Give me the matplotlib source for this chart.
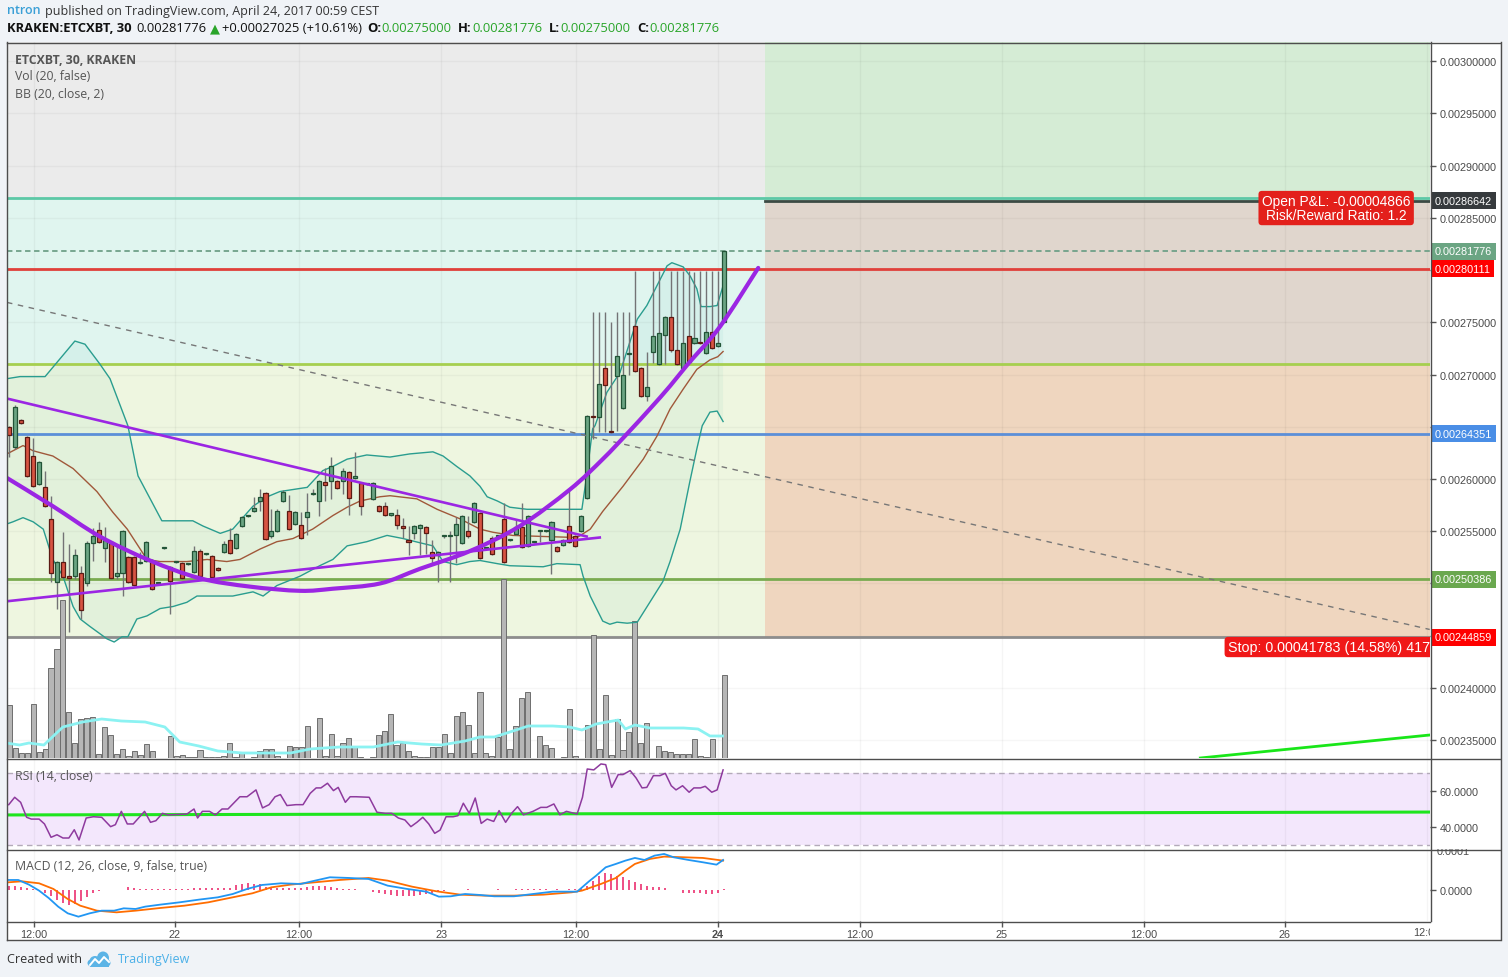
import numpy as np
import matplotlib
matplotlib.use("Agg")
import matplotlib.pyplot as plt
from matplotlib.patches import Rectangle, Ellipse, PathPatch
from matplotlib.path import Path
from matplotlib.lines import Line2D
from matplotlib.transforms import Bbox, blended_transform_factory

plt.rcParams['font.family'] = ['Liberation Sans', 'DejaVu Sans']

UNIT = 1e-5  # all prices below are written in units of 1e-5 BTC

# ---------------- candles (30 min bars, index 0..120) ----------------
opens = [265.0,263.1,265.6,264.0,262.2,259.5,259.2,256.2,250.1,252.1,
 250.7,250.7,251.0,250.0,253.9,255.1,253.4,254.0,250.7,251.0,
 252.5,252.5,252.0,252.2,252.2,250.0,253.4,251.6,252.1,252.0,
 251.9,251.1,253.1,252.8,252.6,251.5,253.0,254.2,253.4,255.5,
 256.5,256.9,257.9,258.7,254.5,255.0,257.9,256.9,255.7,255.6,
 256.4,258.6,257.9,259.7,259.8,259.8,259.8,260.7,260.1,259.6,
 259.5,258.1,257.4,257.4,256.6,256.6,255.5,254.2,254.8,255.3,
 255.4,253.0,252.7,254.5,254.5,254.6,253.9,255.0,255.9,256.7,
 253.4,254.4,254.5,256.2,254.2,254.7,255.4,253.6,254.0,255.0,
 255.0,254.2,253.5,253.7,255.5,254.5,255.0,258.2,266.0,265.9,
 270.6,264.6,269.9,266.8,272.0,274.6,270.6,267.9,272.2,271.0,
 273.8,275.5,272.3,270.6,273.7,273.0,273.1,272.1,274.1,272.7,
 275.0]
highs = [265.1,267.1,265.7,264.1,263.9,261.7,260.8,258.4,252.2,254.9,
 253.8,253.3,251.7,254.1,255.3,255.9,255.4,254.1,253.6,255.1,
 252.6,252.6,253.0,254.1,252.3,250.1,253.5,251.7,252.2,252.1,
 252.0,253.6,253.3,252.9,252.7,251.6,254.1,255.3,254.8,256.5,
 256.6,258.3,259.0,258.8,257.1,257.1,258.9,258.5,256.9,256.8,
 258.7,259.0,259.9,261.1,262.1,259.9,261.1,260.8,262.6,259.7,
 259.6,259.7,257.5,257.8,256.7,257.1,256.3,255.5,255.6,255.7,
 255.5,254.2,253.1,254.6,255.0,256.4,256.6,256.5,257.8,256.8,
 253.5,254.5,254.6,257.7,254.3,256.1,257.7,256.6,254.1,255.1,
 255.1,256.0,253.6,254.3,259.0,254.6,256.6,266.1,276.0,276.0,
 276.0,275.0,276.0,276.0,276.0,279.9,270.7,272.2,279.9,279.9,
 275.6,279.9,279.9,279.9,279.9,279.8,279.9,279.9,279.9,279.9,
 281.776]
lows = [262.1,262.9,265.3,260.2,259.2,259.4,257.3,250.1,247.6,250.5,
 245.4,250.4,246.6,249.8,252.2,253.9,252.1,250.4,250.4,248.8,
 250.0,249.8,251.9,252.1,249.4,249.9,253.3,247.1,252.0,250.4,
 251.8,251.0,250.4,252.7,250.5,251.2,252.9,252.8,253.3,255.4,
 256.4,256.8,256.9,254.2,254.4,254.9,257.8,255.1,255.6,254.3,
 254.6,258.5,256.5,257.9,258.1,259.0,258.6,256.6,260.0,256.6,
 259.4,258.0,256.8,256.5,256.5,255.2,254.4,252.7,254.3,252.7,
 252.8,252.0,250.1,254.4,250.1,252.0,253.8,254.4,255.8,252.3,
 253.3,252.7,254.4,252.0,254.1,254.6,253.4,253.5,253.9,254.0,
 254.9,250.9,253.0,253.6,253.9,253.5,254.9,258.1,263.8,264.5,
 264.5,264.4,264.6,266.7,270.0,270.2,267.8,267.5,271.1,270.9,
 271.0,272.2,270.9,270.5,271.1,272.9,272.9,272.0,272.4,272.6,
 275.0]
closes = [264.2,266.9,265.4,260.3,259.3,261.6,257.4,251.0,252.1,250.6,
 250.5,252.7,247.5,253.9,254.5,254.0,254.2,250.5,251.0,255.0,
 250.1,249.9,252.1,254.0,249.5,250.0,253.4,250.2,252.1,250.5,
 251.9,253.1,250.7,252.8,250.6,251.3,253.8,252.9,254.7,256.4,
 256.5,257.2,258.3,254.3,255.0,256.9,258.8,255.2,256.8,254.4,
 256.8,258.6,259.8,259.4,261.2,259.1,260.8,258.2,260.3,257.4,
 259.5,259.6,256.9,256.6,256.6,255.6,255.3,254.0,255.5,255.6,
 254.8,252.4,253.0,254.5,254.5,255.7,256.5,254.5,257.7,252.4,
 253.4,252.8,254.5,252.1,254.2,255.4,253.5,256.5,254.0,255.0,
 255.0,255.9,253.1,254.2,254.0,253.6,256.5,266.0,265.9,269.1,
 269.0,264.5,271.8,270.0,272.0,270.3,267.9,268.8,273.7,274.0,
 275.5,272.3,271.0,273.0,271.2,273.5,273.0,274.1,272.5,273.0,
 281.776]

# volume (arbitrary units)
volume = [53,10,5,5,54,6,9,90,109,158,
 46,15,39,40,41,4,31,23,4,9,
 2,7,3,14,7,0,0,22,2,3,
 1,1,8,1,1,1,2,15,1,5,
 0,1,7,9,9,2,0,12,11,11,
 32,0,40,2,24,2,15,20,12,1,
 0,1,23,27,44,13,15,7,2,1,
 1,11,11,24,5,42,46,33,5,66,
 5,2,21,179,9,32,60,66,0,22,
 13,10,0,1,49,2,0,33,123,9,
 63,3,39,8,26,137,15,35,0,12,
 7,6,4,4,4,19,2,1,19,0,
 83]
vol_sma_x = [-0.5,1.7,3.3,5.8,9.0,12.3,15.5,18.8,22.8,26.1,28.6,31.8,35.0,39.1,47.2,50.5,55.4,61.1,65.2,69.2,
 72.5,76.5,79.0,81.4,83.5,87.1,91.2,94.0,96.1,98.5,102.2,103.4,105.0,107.5,113.2,115.6,117.6,119.7]
vol_sma = [15,13,15,13,31,36,39,37,36,31,16,12,7,5,5,9,11,11,16,14,
 13,17,21,21,25,32,32,31,28,34,38,29,33,30,30,29,22,22]

# Bollinger bands (20, close, 2)
bb_up_x = [-0.4,1.8,6.0,8.5,11.0,12.7,15.2,16.9,19.9,21.6,25.6,30.8,32.5,35.4,37.5,40.9,43.3,45.4,50.0,52.6,
 54.3,56.7,60.0,63.9,67.2,71.1,72.8,75.1,77.3,79.0,80.2,81.9,84.0,86.9,96.1,96.9,97.9,98.3,100.3,102.5,
 105.4,107.0,108.7,110.4,111.2,113.1,114.3,115.4,116.1,117.6,118.8,119.8]
bb_up = [269.6,269.8,269.8,271.5,273.2,272.9,271.0,269.6,265.1,260.3,256.0,256.0,255.5,254.8,255.2,257.4,258.3,258.8,259.2,260.8,
 261.2,261.9,262.3,262.1,262.4,262.6,262.2,261.2,260.3,259.3,258.3,257.9,257.3,257.1,257.1,260.3,264.8,265.1,268.3,270.2,
 275.3,276.6,278.5,280.4,280.7,280.3,279.4,278.2,276.5,276.5,276.6,278.5]
bb_lo_x = [-0.4,0.6,2.3,4.0,5.7,7.3,9.0,10.7,11.9,13.5,16.4,17.6,18.9,19.9,21.4,23.1,25.3,27.5,29.8,31.5,
 37.5,40.9,42.6,44.9,48.8,52.1,54.3,56.7,60.0,63.4,66.1,68.9,71.1,72.8,75.1,77.3,79.0,81.9,84.0,89.6,
 91.9,95.8,96.3,97.5,99.6,100.8,102.0,103.7,105.4,107.5,109.7,110.9,112.6,114.2,115.4,116.3,117.6,118.8,119.8]
bb_lo = [255.7,255.9,256.3,255.9,255.2,252.3,250.7,247.8,246.6,245.9,244.7,244.4,244.9,244.9,246.6,246.9,247.6,247.8,248.2,248.8,
 248.8,249.2,248.8,249.8,250.7,251.7,252.3,253.6,254.0,254.6,254.3,253.9,253.6,252.1,251.8,252.1,252.2,251.9,251.7,251.6,
 251.9,251.8,250.7,248.8,246.4,246.1,246.3,246.2,246.3,248.2,250.2,252.1,255.2,259.7,262.9,265.1,266.4,266.5,265.5]
bb_mid_x = [-0.4,2.3,4.0,7.3,10.7,14.7,17.4,19.8,23.1,25.3,29.8,33.2,36.5,38.7,42.1,44.9,47.6,50.9,54.3,56.7,
 58.9,62.2,63.9,68.4,71.8,75.6,79.0,81.2,84.5,89.6,95.3,97.5,99.6,103.0,106.4,108.7,110.9,113.1,115.4,117.6,
 118.9,119.8]
bb_mid = [262.4,263.2,262.7,262.2,261.0,258.8,256.8,255.2,252.3,252.1,252.1,252.3,252.1,252.3,253.3,254.0,254.3,255.2,256.5,257.3,
 257.9,258.3,258.4,258.1,257.1,256.2,255.2,254.9,254.6,254.5,254.4,255.2,256.9,259.3,261.9,264.1,266.7,268.6,270.5,271.4,
 271.7,272.2]

# drawings
curve_x = [-0.4,7.3,15.2,23.6,32.0,40.4,48.8,54.3,62.2,68.9,77.3,85.7,94.1,99.6,103.8,107.5,110.9,113.9,119.3,125.7]
curve_p = [260.1,257.4,254.5,252.2,250.5,249.7,249.3,249.5,250.0,251.4,253.1,255.5,259.0,261.9,264.4,266.7,268.9,271.0,274.6,280.2]
down_line_x = [-0.4, 96.9]
down_line_p = [267.7, 254.5]
up_line_x = [-0.4, 99.1]
up_line_p = [248.3, 254.4]
diag_x = [-0.4, 238.4]
diag_p = [276.9, 245.6]
green_trend_x = [199.9, 238.4]
green_trend_p = [233.3, 235.5]

level_fib_top = 286.9
level_fib_mid = 271.0
level_red = 280.111
level_blue = 264.351
level_green = 250.386
level_stop = 244.859
level_entry = 286.642
level_last = 281.776
position_start_x = 126.8

# RSI (14)
rsi_x = [-0.1,0.9,1.9,2.9,3.7,5.0,5.9,7.0,8.0,9.0,10.0,10.9,11.7,12.9,14.1,15.5,17.0,17.8,18.8,19.8,
 20.8,22.7,23.7,24.6,25.7,26.7,29.8,31.0,31.6,32.4,33.6,34.6,35.7,36.7,38.7,39.9,41.4,42.5,43.6,44.6,
 45.5,46.6,48.1,49.3,50.5,51.5,52.3,53.4,54.4,55.2,56.4,57.2,58.2,60.4,61.7,63.1,64.2,65.3,66.4,67.4,
 68.4,69.4,70.4,71.4,72.3,73.3,74.5,75.3,76.2,77.2,78.2,79.2,80.2,81.3,82.2,83.3,84.3,85.3,86.3,87.9,
 89.2,90.2,91.4,92.4,93.5,95.3,96.2,97.0,98.1,99.3,100.1,101.1,102.2,103.0,104.2,105.2,106.2,107.0,108.1,109.2,
 110.1,111.1,111.9,113.0,114.1,114.9,116.0,116.8,117.9,118.8,119.8]
rsi = [52.4,56.5,53.7,45.4,44.4,44.4,41.7,34.3,35.7,33.9,33.9,38.5,32.8,45.0,45.7,45.4,40.2,41.3,48.7,41.7,
 41.7,48.7,42.6,43.5,47.6,46.7,47.2,50.0,45.0,48.7,48.7,46.7,50.0,50.0,56.8,56.8,60.6,50.6,52.4,56.8,
 58.0,51.9,52.4,52.4,58.7,61.7,61.7,64.3,60.2,62.0,53.7,56.8,56.8,56.5,48.2,47.6,47.6,45.0,43.9,40.2,
 42.6,45.4,41.7,36.5,38.3,45.7,45.7,46.3,53.2,47.6,56.1,42.0,44.4,43.1,49.1,42.6,47.6,51.3,46.8,48.7,
 50.9,50.9,52.8,46.8,48.7,47.2,56.5,72.2,71.7,75.0,74.6,62.0,69.1,69.1,71.3,67.2,61.7,62.0,68.5,68.5,
 69.8,62.9,60.6,62.9,59.3,61.7,61.7,62.6,59.3,60.6,71.7]
rsi_trend_x = [-0.4, 238.4]
rsi_trend = [46.7, 48.3]

# MACD (12, 26, 9) in units of 1e-5
macd_x = [-0.1,1.5,3.3,5.0,6.6,8.2,9.8,11.6,13.5,15.5,17.6,19.2,21.2,22.8,25.3,28.6,31.8,35.0,37.5,39.9,
 42.4,45.6,48.9,51.3,53.8,57.0,60.3,63.5,66.8,70.0,72.1,74.1,76.5,79.0,81.4,84.7,87.9,91.2,95.3,97.3,
 98.5,100.1,101.8,103.4,105.0,106.6,108.3,109.9,111.5,114.0,116.4,118.7,119.8]
macd = [2.56,2.56,1.37,-0.17,-2.05,-4.27,-5.98,-6.84,-5.98,-5.30,-5.30,-4.70,-4.87,-4.27,-3.76,-3.16,-2.48,-1.88,-1.03,0.26,
 1.28,1.71,1.54,2.39,3.25,3.08,2.82,1.11,0.26,-0.43,-1.71,-1.62,-1.03,-1.28,-1.62,-1.62,-1.03,-0.43,-0.43,2.22,
 3.68,5.81,6.67,7.52,8.21,7.69,8.80,9.23,8.38,7.69,7.10,6.49,7.69]
signal_x = [-0.1,2.1,5.0,7.4,9.8,11.9,14.7,18.0,21.2,25.3,29.4,33.4,37.5,40.8,44.0,47.2,51.3,55.4,60.3,63.5,
 67.6,71.7,75.7,79.8,84.7,89.6,94.4,96.1,99.3,101.8,103.4,105.0,107.5,109.9,113.2,116.4,119.8]
signal = [1.97,2.22,1.71,0.26,-2.31,-4.02,-5.30,-5.73,-5.30,-4.62,-4.02,-3.16,-1.88,-0.85,0.68,1.37,1.97,2.56,3.08,2.39,
 0.85,-0.34,-1.20,-1.45,-1.45,-1.20,-0.60,-0.17,1.54,3.08,4.96,6.67,7.95,8.55,8.38,8.21,7.52]
hist = [0.9,0.9,0.8,0.5,0.2,-0.3,-0.8,-1.6,-2.5,-3.3,
 -3.8,-3.5,-2.8,-1.8,-0.9,-0.3,0.1,0.1,0.1,0.1,
 0.7,0.6,0.2,0.2,0.2,0.2,0.2,0.3,0.3,0.3,
 0.3,0.4,0.4,0.4,0.4,0.5,0.5,0.6,1.2,1.5,
 1.7,1.6,1.5,0.8,0.7,0.6,0.6,0.5,0.5,0.4,
 0.8,1.0,1.1,1.0,0.8,0.6,0.3,0.3,0.2,0.0,
 -0.1,-0.4,-0.8,-1.1,-1.3,-1.5,-1.6,-1.6,-1.5,-1.3,
 -1.1,-0.8,-0.5,-0.3,-0.1,0.1,0.1,0.2,0.1,0.1,
 0.1,0.1,0.2,0.1,0.1,0.2,0.2,0.3,0.2,0.2,
 0.2,0.1,0.2,0.1,0.2,0.2,0.5,0.9,2.4,3.7,
 4.3,4.1,3.6,3.2,2.6,2.0,1.5,0.9,0.8,0.8,
 0.6,0.0,0.0,-0.8,-0.9,-0.9,-0.9,-1.0,-1.0,-0.9,
 0.3]

price_ticks = [300,295,290,285,280,275,270,265,260,255,250,245,240,235]
hidden_price_ticks = [280,265,250,245]
time_ticks = [4.15,27.8,48.6,72.5,95.1,118.9,142.8,166.6,190.4,214.1]
time_labels = ["12:00","22","12:00","23","12:00","24","12:00","25","12:00","26"]
clipped_time_tick, clipped_time_label = 237.9, "12:00"

# ---------------- figure ----------------
W, H = 1508, 978
fig = plt.figure(figsize=(W / 100, H / 100), dpi=100)
fig.patch.set_facecolor("#f0f3f7")

def fx(px): return px / W
def fy(py): return 1 - py / H

LEFT, RIGHT = 7, 1430
def pane(top, bottom):
    return [fx(LEFT), fy(bottom), fx(RIGHT) - fx(LEFT), fy(top) - fy(bottom)]

fig.add_artist(Rectangle((fx(7), fy(941)), fx(1500) - fx(7), fy(43) - fy(941),
                         transform=fig.transFigure, facecolor="white", edgecolor="none", zorder=-5))

XMIN, XMAX = -0.39, 238.45
PMIN, PMAX = 233.30 * UNIT, 301.82 * UNIT

ax_bg = fig.add_axes(pane(43, 759)); ax_bg.set_zorder(1)
ax_vol = fig.add_axes(pane(43, 759), sharex=ax_bg); ax_vol.set_zorder(2)
ax = fig.add_axes(pane(43, 759), sharex=ax_bg, sharey=ax_bg); ax.set_zorder(3)
ax_rsi = fig.add_axes(pane(759, 850), sharex=ax_bg); ax_rsi.set_zorder(1)
ax_macd = fig.add_axes(pane(850, 922), sharex=ax_bg); ax_macd.set_zorder(1)
ax_vol.patch.set_visible(False)
ax.patch.set_visible(False)

for a in (ax_bg, ax_vol, ax, ax_rsi, ax_macd):
    for s in a.spines.values():
        s.set_visible(False)
    a.tick_params(which="both", bottom=False, top=False, left=False, right=False,
                  labelbottom=False, labelleft=False, labelright=False, labeltop=False)

ax_bg.set_xlim(XMIN, XMAX)
ax_bg.set_ylim(PMIN, PMAX)

u = lambda arr: np.asarray(arr, dtype=float) * UNIT
idx = np.arange(len(opens))
o, h, l, c = u(opens), u(highs), u(lows), u(closes)

# ---- background zones (fib + long position) ----
BIG = 400
zones = [
    (-5, position_start_x, level_fib_top, 320, "#ebebeb"),
    (-5, position_start_x, level_fib_mid, level_fib_top, "#e0f5ef"),
    (-5, position_start_x, level_stop, level_fib_mid, "#eef6e0"),
    (position_start_x, BIG, level_entry, 320, "#d5ecd5"),
    (position_start_x, BIG, level_fib_mid, level_entry, "#e0d6cd"),
    (position_start_x, BIG, level_stop, level_fib_mid, "#efd6bf"),
]
for x0, x1, p0, p1, col in zones:
    ax_bg.add_patch(Rectangle((x0, p0 * UNIT), x1 - x0, (p1 - p0) * UNIT,
                              facecolor=col, edgecolor="none", zorder=0.5))

# Bollinger fill
poly_x = list(bb_up_x) + list(bb_lo_x[::-1])
poly_y = list(u(bb_up)) + list(u(bb_lo)[::-1])
ax_bg.fill(poly_x, poly_y, color="#26a69a", alpha=0.06, lw=0, zorder=0.8)

# grid
for t in time_ticks + [clipped_time_tick]:
    for a in (ax_bg, ax_rsi, ax_macd):
        a.axvline(t, color="#000000", alpha=0.04, lw=1, zorder=0.9)
for p in price_ticks:
    ax_bg.axhline(p * UNIT, color="#000000", alpha=0.035, lw=1, zorder=0.9)

# horizontal levels
ax_bg.axhline(level_fib_top * UNIT, color="#5cc8a6", lw=2, zorder=1.5)
ax_bg.axhline(level_fib_mid * UNIT, color="#a6cf4f", lw=2, zorder=1.5)
ax_bg.axhline(level_blue * UNIT, color="#5b8fd8", lw=2, zorder=1.5)
ax_bg.axhline(level_green * UNIT, color="#7aab50", lw=2, zorder=1.5)
ax_bg.axhline(level_stop * UNIT, color="#8d8d8d", lw=2, zorder=1.5)
ax_bg.axhline(level_red * UNIT, color="#e0403a", lw=2, zorder=1.5)
ax_bg.plot([position_start_x, BIG], [level_entry * UNIT] * 2, color="#3b4a44", lw=2, zorder=1.6)
ax_bg.axhline(level_last * UNIT, color="#6fa088", lw=1.3, ls=(0, (3, 2)), zorder=1.6)

# ---- volume ----
ax_vol.set_ylim(0, 716)
ax_vol.bar(idx, volume, width=0.85, color="#b6b6b6", edgecolor="#6e6e6e", linewidth=0.7, zorder=2)
ax_vol.plot(vol_sma_x, vol_sma, color="#8cf2f2", lw=2.0, zorder=3)

# ---- BB lines ----
ax.plot(bb_up_x, u(bb_up), color="#2a9d8f", lw=1.0, zorder=3)
ax.plot(bb_lo_x, u(bb_lo), color="#2a9d8f", lw=1.0, zorder=3)
ax.plot(bb_mid_x, u(bb_mid), color="#a0583a", lw=1.0, zorder=3)

# ---- candles ----
up = c >= o
body_lo = np.minimum(o, c)
body_h = np.maximum(np.abs(c - o), 0.1 * UNIT)
ax.vlines(idx, l, h, color="#737375", lw=1, zorder=4)
ax.bar(idx, body_h, bottom=body_lo, width=0.68,
       color=np.where(up, "#6ba583", "#d75442"),
       edgecolor=np.where(up, "#225437", "#5b1a13"), linewidth=0.9, zorder=5)

# ---- drawings ----
ax.plot(diag_x, u(diag_p), color="#777777", lw=1, ls=(0, (4, 4)), zorder=6)
ax.plot(down_line_x, u(down_line_p), color="#9b26e3", lw=1.9, zorder=7)
ax.plot(up_line_x, u(up_line_p), color="#9b26e3", lw=1.9, zorder=7)

# smooth stroke through the curve's read points (cubic Bezier segments, Catmull-Rom tangents)
P = np.column_stack([curve_x, u(curve_p)])
verts = [tuple(P[0])]
codes = [Path.MOVETO]
for i in range(len(P) - 1):
    p0 = P[i - 1] if i > 0 else P[i]
    p1, p2 = P[i], P[i + 1]
    p3 = P[i + 2] if i + 2 < len(P) else P[i + 1]
    verts += [tuple(p1 + (p2 - p0) / 6), tuple(p2 - (p3 - p1) / 6), tuple(p2)]
    codes += [Path.CURVE4] * 3
ax.add_patch(PathPatch(Path(verts, codes), fill=False, edgecolor="#9b26e3", lw=3.0,
                       capstyle="round", joinstyle="round", zorder=7))
ax.plot(green_trend_x, u(green_trend_p), color="#19e619", lw=2, zorder=7)

# ---- price axis ----
ax.set_yticks(u(price_ticks))
ax.set_yticklabels(["" if p in hidden_price_ticks else f"{p * UNIT:.8f}" for p in price_ticks])
ax.tick_params(axis="y", right=True, labelright=True, length=4, width=1, color="#555555",
               pad=3, labelsize=7.8, labelcolor="#4a4a4a")
ax.set_ylim(PMIN, PMAX)

trans = blended_transform_factory(ax.transAxes, ax.transData)
xlab = 1.0 + 5 / (RIGHT - LEFT)
for p, col in [(level_entry, "#363a3d"), (level_last, "#6ba583"), (level_red, "#ff0000"),
               (level_blue, "#4a8ee6"), (level_green, "#6aa84f"), (level_stop, "#ff0000")]:
    ax.text(xlab, p * UNIT, f"{p * UNIT:.8f}", transform=trans, ha="left", va="center",
            fontsize=7.8, color="white", clip_on=False, zorder=9,
            bbox=dict(boxstyle="square,pad=0.32", fc=col, ec="none"))

ax.text(222.7, 285.93 * UNIT, "Open P&L: -0.00004866\nRisk/Reward Ratio: 1.2", ha="center", va="center",
        fontsize=9.9, color="white", linespacing=0.95, zorder=9,
        bbox=dict(boxstyle="round,pad=0.25,rounding_size=0.25", fc="#e3201b", ec="none"))
ax.text(204.5, 243.92 * UNIT, "Stop: 0.00041783 (14.58%) 41783, Amount", ha="left", va="center",
        fontsize=10.3, color="white", zorder=9, clip_on=True,
        bbox=dict(boxstyle="round,pad=0.22,rounding_size=0.25", fc="#f01818", ec="none"))

# ---- RSI ----
ax_rsi.set_ylim(27.8, 78.3)
ax_rsi.axhspan(30, 70, color="#f3e7fc", lw=0, zorder=0.5)
ax_rsi.axhline(70, color="#b3aab9", lw=1, ls=(0, (4, 3)), zorder=1)
ax_rsi.axhline(30, color="#b3aab9", lw=1, ls=(0, (4, 3)), zorder=1)
ax_rsi.plot(rsi_trend_x, rsi_trend, color="#1ee51e", lw=2.2, zorder=2)
ax_rsi.plot(rsi_x, rsi, color="#8e3a9e", lw=1.1, zorder=3)
ax_rsi.set_yticks([40, 60])
ax_rsi.set_yticklabels(["40.0000", "60.0000"])
ax_rsi.tick_params(axis="y", right=True, labelright=True, length=4, width=1, color="#555555",
                   pad=3, labelsize=7.8, labelcolor="#4a4a4a")

# ---- MACD ----
ax_macd.set_ylim(-7.95 * UNIT, 10.5 * UNIT)
ax_macd.vlines(idx, 0, u(hist), color="#e91e63", lw=1.1, zorder=2)
ax_macd.plot(signal_x, u(signal), color="#ff6d00", lw=1.3, zorder=3)
ax_macd.plot(macd_x, u(macd), color="#2196f3", lw=1.3, zorder=4)
ax_macd.set_yticks([0.0])
ax_macd.set_yticklabels(["0.0000"])
ax_macd.tick_params(axis="y", right=True, labelright=True, length=4, width=1, color="#555555",
                    pad=3, labelsize=7.8, labelcolor="#4a4a4a")
ax_macd.set_xticks(time_ticks)
ax_macd.set_xticklabels(time_labels)
ax_macd.tick_params(axis="x", bottom=True, labelbottom=True, length=4, width=1, color="#555555",
                    pad=2, labelsize=7.8, labelcolor="#4a4a4a")
for t in ax_macd.get_xticklabels():
    if t.get_text() == "24":
        t.set_fontweight("bold")
ax_bg.set_xlim(XMIN, XMAX)

# clipped labels at pane edges
tr_x = blended_transform_factory(ax_macd.transData, fig.transFigure)
t = fig.text(clipped_time_tick, fy(933), clipped_time_label, transform=tr_x, ha="center", va="center",
             fontsize=7.8, color="#4a4a4a")
t.set_clip_box(Bbox.from_extents(0, 0, RIGHT, H)); t.set_clip_on(True)
tr_y = blended_transform_factory(fig.transFigure, ax_macd.transData)
t = fig.text(fx(1437), 10.0 * UNIT, "0.0001", transform=tr_y, ha="left", va="center",
             fontsize=7.8, color="#4a4a4a")
t.set_clip_box(Bbox.from_extents(0, 0, W, H - 850)); t.set_clip_on(True)

# ---- frame lines ----
def fline(x0, y0, x1, y1, col="#4d4d4d", lw=1.0):
    fig.add_artist(Line2D([fx(x0), fx(x1)], [fy(y0), fy(y1)], transform=fig.transFigure,
                          color=col, lw=lw, zorder=20))
fline(7, 43.5, 1500, 43.5)
fline(7, 43, 7, 941)
fline(1500.5, 43, 1500.5, 941)
fline(7, 940.5, 1500, 940.5)
fline(1430.5, 43, 1430.5, 922)
fline(7, 759.5, 1500, 759.5)
fline(7, 850.5, 1500, 850.5)
fline(7, 922.5, 1430, 922.5)

# ---- texts ----
HFONT = ["Open Sans", "DejaVu Sans"]
renderer = fig.canvas.get_renderer()

def seq(x_px, y_px, parts, size):
    x = x_px
    for s, col, weight, gap in parts:
        tt = fig.text(fx(x), fy(y_px), s, color=col, fontweight=weight, fontsize=size,
                      family=HFONT, ha="left", va="center")
        bb = tt.get_window_extent(renderer)
        x = bb.x1 + gap

seq(7, 11, [("ntron", "#3a9fd6", "semibold", 4),
            ("published on TradingView.com, April 24, 2017 00:59 CEST", "#333333", "normal", 0)], 9.0)
G = "#2aa52a"
seq(7, 29, [("KRAKEN:ETCXBT, 30", "#111111", "bold", 5),
            ("0.00281776", "#111111", "normal", 3),
            ("▲", G, "normal", 2),
            ("+0.00027025 (+10.61%)", "#111111", "normal", 5),
            ("O:", "#111111", "bold", 1), ("0.00275000", G, "normal", 6),
            ("H:", "#111111", "bold", 1), ("0.00281776", G, "normal", 6),
            ("L:", "#111111", "bold", 1), ("0.00275000", G, "normal", 6),
            ("C:", "#111111", "bold", 1), ("0.00281776", G, "normal", 0)], 9.4)

fig.text(fx(15), fy(60), "ETCXBT, 30, KRAKEN", fontsize=8.8, fontweight="bold", color="#555555",
         family=HFONT, va="center", zorder=30)
fig.text(fx(15), fy(77), "Vol (20, false)", fontsize=8.8, color="#555555", family=HFONT, va="center", zorder=30)
fig.text(fx(15), fy(94), "BB (20, close, 2)", fontsize=8.8, color="#555555", family=HFONT, va="center", zorder=30)
fig.text(fx(15), fy(776), "RSI (14, close)", fontsize=8.8, color="#555555", family=HFONT, va="center", zorder=30)
fig.text(fx(15), fy(867), "MACD (12, 26, close, 9, false, true)", fontsize=8.8, color="#555555",
         family=HFONT, va="center", zorder=30)

fig.text(fx(7), fy(960), "Created with", fontsize=9.0, color="#333333", family=HFONT, va="center")
fig.text(fx(118), fy(960), "TradingView", fontsize=9.0, color="#4bb0e8", family=HFONT, va="center")
# cloud logo
for cx, cy, w, hh in [(95, 962, 11, 10), (103, 959, 12, 13), (91, 964, 7, 7), (107, 964, 7, 7)]:
    fig.add_artist(Ellipse((fx(cx), fy(cy)), w / W, hh / H, transform=fig.transFigure,
                           facecolor="#5cb4e6", edgecolor="none", zorder=21))
fig.add_artist(Rectangle((fx(90), fy(967.5)), 19 / W, 5 / H, transform=fig.transFigure,
                         facecolor="#5cb4e6", edgecolor="none", zorder=21))
fig.add_artist(Line2D([fx(90), fx(95), fx(99), fx(104), fx(109)], [fy(966), fy(960), fy(964), fy(958), fy(963)],
                      transform=fig.transFigure, color="white", lw=1.4, zorder=22))

fig.savefig("out.png", dpi=100, facecolor=fig.get_facecolor())
